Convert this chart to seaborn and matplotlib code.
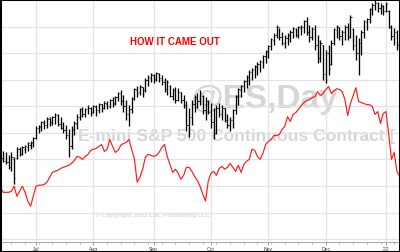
import matplotlib
matplotlib.use("Agg")
import matplotlib.pyplot as plt
from matplotlib.patches import Rectangle
import seaborn as sns
import numpy as np
import pandas as pd

# bar index (trading days relative to Jul 1)
bar_idx = list(range(-13, 134))

high = [4238,4230,4226,4215,4226,4208,4245,4245,4249,4256,4264,4271,4283,
        4324,4331,4343,4350,4361,4358,4365,4373,4369,4361,4339,4331,4313,4324,4343,4369,
        4395,4399,4395,4403,4399,4406,4403,4414,4410,4418,4421,4429,4433,4440,4455,4463,
        4444,4425,4406,4433,4470,4478,4481,4474,4508,4519,4526,4523,4530,4526,4519,4508,
        4500,4481,4470,4474,4470,4455,4444,4418,4395,4425,4444,4451,4463,4444,4433,4425,
        4414,4395,4406,4414,4406,4395,4369,4358,4388,4444,4470,4481,4500,4519,4538,4545,
        4556,4568,4575,4594,4613,4631,4658,4676,4706,4695,4680,4669,4676,4688,4699,4695,
        4703,4706,4725,4736,4706,4699,4706,4669,4650,4631,4613,4631,4650,4695,4706,4699,
        4688,4706,4714,4744,4695,4669,4658,4688,4725,4733,4770,4789,4800,4793,4789,4781,
        4793,4763,4706,4695,4688,4669]
low = [4200,4189,4181,4163,4155,4106,4200,4211,4215,4223,4230,4238,4245,
       4275,4301,4305,4313,4320,4324,4328,4335,4324,4313,4301,4275,4208,4238,4290,4313,
       4350,4358,4361,4369,4365,4373,4365,4376,4380,4388,4388,4395,4399,4406,4421,4406,
       4380,4350,4324,4376,4425,4436,4444,4433,4455,4478,4493,4489,4496,4493,4481,4455,
       4444,4433,4425,4414,4418,4414,4395,4305,4283,4331,4380,4395,4406,4369,4350,4369,
       4320,4275,4294,4358,4350,4339,4320,4305,4320,4369,4406,4436,4455,4470,4481,4500,
       4508,4519,4530,4545,4564,4583,4613,4631,4658,4650,4631,4620,4631,4643,4658,4661,
       4658,4669,4676,4669,4643,4650,4613,4564,4568,4500,4489,4519,4556,4631,4658,4650,
       4631,4650,4650,4658,4613,4575,4519,4594,4658,4688,4714,4744,4763,4755,4748,4744,
       4755,4695,4650,4631,4613,4568]
open_ = [4230,4205,4195,4190,4170,4200,4205,4238,4222,4240,4248,4255,4262,
         4280,4318,4322,4338,4330,4352,4342,4358,4366,4335,4320,4310,4290,4250,4310,4335,
         4360,4388,4372,4388,4395,4378,4398,4385,4408,4395,4410,4402,4422,4412,4435,4450,
         4420,4400,4370,4390,4430,4462,4452,4472,4460,4500,4508,4518,4502,4522,4505,4490,
         4465,4478,4440,4460,4425,4452,4425,4405,4330,4360,4410,4435,4420,4440,4385,4418,
         4380,4340,4300,4395,4370,4392,4350,4330,4350,4385,4440,4462,4475,4495,4510,4528,
         4538,4548,4558,4568,4588,4605,4625,4650,4668,4698,4660,4640,4658,4668,4678,4692,
         4670,4695,4700,4720,4680,4660,4690,4630,4580,4630,4520,4600,4560,4640,4688,4698,
         4665,4680,4700,4665,4690,4630,4600,4640,4680,4718,4728,4765,4780,4788,4770,4778,
         4760,4760,4700,4665,4680,4630]
close = [4205,4195,4190,4170,4210,4130,4240,4220,4245,4250,4260,4265,4280,
         4320,4325,4340,4330,4355,4340,4360,4368,4335,4320,4310,4290,4250,4315,4338,4360,
         4390,4370,4390,4395,4375,4400,4385,4410,4395,4412,4400,4425,4410,4435,4450,4420,
         4400,4370,4390,4428,4465,4450,4475,4445,4500,4510,4520,4500,4525,4505,4490,4465,
         4490,4440,4460,4425,4455,4425,4405,4330,4360,4410,4435,4420,4450,4385,4420,4380,
         4340,4300,4395,4370,4395,4350,4330,4350,4385,4440,4465,4478,4495,4512,4530,4540,
         4550,4560,4570,4590,4608,4625,4652,4670,4700,4660,4640,4660,4670,4680,4695,4670,
         4698,4700,4720,4680,4660,4690,4630,4580,4640,4520,4600,4540,4640,4690,4700,4665,
         4680,4700,4660,4735,4630,4600,4640,4680,4720,4728,4765,4780,4790,4770,4780,4760,
         4785,4700,4665,4680,4630,4580]

# "How it came out" red series
came_out = [4095,4076,4076,4076,4080,4099,4061,4080,4099,4076,4043,4024,4061,
            4099,4103,4103,4106,4114,4133,4151,4155,4159,4166,4170,4174,4178,4185,4196,4211,
            4208,4200,4211,4219,4234,4238,4241,4249,4256,4230,4238,4275,4249,4226,4234,4253,
            4260,4264,4275,4238,4200,4114,4133,4163,4208,4219,4215,4211,4215,4226,4245,4256,
            4211,4181,4151,4163,4148,4125,4140,4170,4170,4155,4136,4121,4099,4069,4043,4118,
            4148,4155,4140,4166,4174,4163,4170,4185,4170,4155,4178,4151,4181,4193,4200,4238,
            4234,4211,4200,4223,4256,4268,4275,4290,4290,4294,4313,4324,4361,4343,4369,4376,
            4388,4403,4414,4421,4425,4433,4436,4455,4440,4448,4463,4474,4448,4459,4466,4463,
            4455,4425,4365,4410,4440,4470,4418,4414,4410,4406,4406,4399,4369,4380,4335,4373,
            4380,4294,4200,4226,4155,4136]

month_labels = ["Jul", "Aug", "Sep", "Oct", "Nov", "Dec", "'22"]
month_idx = [0, 21, 43, 64, 85, 106, 128]

df = pd.DataFrame({"k": bar_idx, "high": high, "low": low, "open": open_,
                   "close": close, "came_out": came_out})

sns.set_theme(style="white")
plt.rcParams['font.family'] = ['Liberation Sans', 'DejaVu Sans']

fig = plt.figure(figsize=(4, 2.53), dpi=100)
fig.patch.set_facecolor("white")
ax = fig.add_axes([0, 10/253, 1, 1 - 11/253])
ax.set_facecolor("white")

ax.set_xlim(-13.17, 133.13)
ax.set_ylim(3889, 4800)

# grid
ax.set_yticks(np.arange(3900, 4800, 100))
ax.set_xticks(month_idx)
ax.set_xticks(np.arange(-9, 134, 5), minor=True)
ax.grid(True, which="major", color="#e3e3e3", lw=0.9)
ax.set_axisbelow(True)
ax.tick_params(axis="y", left=False, labelleft=False)
ax.set_xticklabels(month_labels, fontsize=3.6, color="#333333")
ax.tick_params(axis="x", which="major", direction="out", length=2.5, width=0.5,
               color="#777777", pad=0.6, bottom=True)
ax.tick_params(axis="x", which="minor", direction="out", length=1.5, width=0.5,
               color="#999999", bottom=True)
for s in ["top", "left", "right"]:
    ax.spines[s].set_visible(False)
ax.spines["bottom"].set_color("#9a9a9a")
ax.spines["bottom"].set_linewidth(0.6)

# watermarks
wm = "#d6d6d6"
ax.text(0.475, 0.595, "@ES,Day", transform=ax.transAxes, fontsize=24,
        fontweight="bold", color=wm, ha="left", va="center", zorder=0.5)
ax.text(0.195, 0.44, "E-mini S&P 500 Continuous Contract [", transform=ax.transAxes,
        fontsize=12.6, fontweight="bold", color=wm, ha="left", va="center",
        zorder=0.5, clip_on=True)
ax.text(0.237, 0.115, "\u00a9 Copyright 2022 LNL Publishing LLC", transform=ax.transAxes,
        fontsize=4.6, fontweight="bold", color="#dadada", ha="left", va="center",
        zorder=0.5)

# title
ax.text(0.325, 0.83, "HOW IT CAME OUT", transform=ax.transAxes, fontsize=7,
        fontweight="bold", color="#ff0000", ha="left", va="center", zorder=5)

# red line
sns.lineplot(data=df, x="k", y="came_out", color="#ff1a1a", lw=0.85, ax=ax, zorder=3)

# OHLC bars
ax.vlines(df["k"], df["low"], df["high"], color="black", lw=0.95, zorder=4)
ax.hlines(df["open"], df["k"] - 0.45, df["k"], color="black", lw=0.6, zorder=4)
ax.hlines(df["close"], df["k"], df["k"] + 0.45, color="black", lw=0.6, zorder=4)

ax.set_xlabel("")
ax.set_ylabel("")

fig.patches.append(Rectangle((0, 0), 1, 1, transform=fig.transFigure, fill=False,
                             edgecolor="black", lw=2.2, zorder=10))

fig.savefig("out.png", dpi=100)
